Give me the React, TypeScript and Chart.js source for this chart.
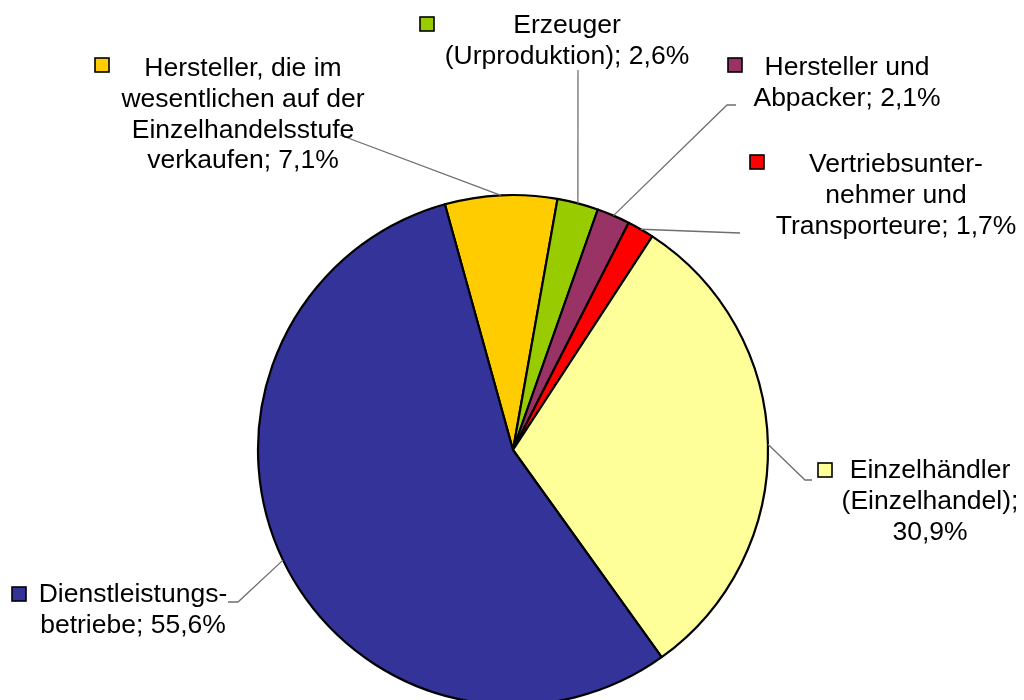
import React, { useEffect, useRef } from "react";
import { Chart, registerables } from "chart.js";

Chart.register(...registerables);

const categories = [
  "Hersteller, die im wesentlichen auf der Einzelhandelsstufe verkaufen",
  "Erzeuger (Urproduktion)",
  "Hersteller und Abpacker",
  "Vertriebsunternehmer und Transporteure",
  "Einzelhändler (Einzelhandel)",
  "Dienstleistungsbetriebe",
];
const shares = [7.1, 2.6, 2.1, 1.7, 30.9, 55.6];
const sliceColors = ["#FFCC00", "#99CC00", "#993366", "#FF0000", "#FFFF99", "#333399"];
const labelLines = [
  ["Hersteller, die im", "wesentlichen auf der", "Einzelhandelsstufe", "verkaufen; 7,1%"],
  ["Erzeuger", "(Urproduktion); 2,6%"],
  ["Hersteller und", "Abpacker; 2,1%"],
  ["Vertriebsunter-", "nehmer und", "Transporteure; 1,7%"],
  ["Einzelhändler", "(Einzelhandel);", "30,9%"],
  ["Dienstleistungs-", "betriebe; 55,6%"],
];

// label layout: text centre x, first baseline y, legend square x/y, leader path (label side first)
const labelLayout = [
  { cx: 243, y: 76, sq: [95, 58], path: [[340, 135]] },
  { cx: 567, y: 33, sq: [420, 17], path: [[578, 70]] },
  { cx: 847, y: 75, sq: [728, 58], path: [[736, 105], [727, 105]] },
  { cx: 896, y: 172, sq: [750, 155], path: [[740, 233]] },
  { cx: 930, y: 478, sq: [818, 463], path: [[812, 480], [805, 480]] },
  { cx: 133, y: 602, sq: [12, 587], path: [[228, 602], [238, 602]] },
];

const FONT = '26.5px "Liberation Sans", Arial, sans-serif';
const LINE_H = 30.8;

const labelPlugin = {
  id: "pieLabels",
  afterDatasetsDraw(chart: any) {
    const ctx = chart.ctx;
    const meta = chart.getDatasetMeta(0);
    ctx.save();
    meta.data.forEach((arc: any, i: number) => {
      const { x, y, startAngle, endAngle, outerRadius } = arc.getProps(
        ["x", "y", "startAngle", "endAngle", "outerRadius"],
        true
      );
      const mid = (startAngle + endAngle) / 2;
      const px = x + Math.cos(mid) * outerRadius;
      const py = y + Math.sin(mid) * outerRadius;
      const lay = labelLayout[i];
      // leader line
      ctx.beginPath();
      ctx.strokeStyle = "#6e6e6e";
      ctx.lineWidth = 1.3;
      ctx.moveTo(lay.path[0][0], lay.path[0][1]);
      for (let k = 1; k < lay.path.length; k++) ctx.lineTo(lay.path[k][0], lay.path[k][1]);
      ctx.lineTo(px, py);
      ctx.stroke();
      // legend square
      ctx.fillStyle = sliceColors[i];
      ctx.fillRect(lay.sq[0], lay.sq[1], 14, 14);
      ctx.strokeStyle = "#000000";
      ctx.lineWidth = 1.6;
      ctx.strokeRect(lay.sq[0], lay.sq[1], 14, 14);
      // text
      ctx.fillStyle = "#000000";
      ctx.font = FONT;
      ctx.textAlign = "center";
      ctx.textBaseline = "alphabetic";
      labelLines[i].forEach((line, j) => {
        ctx.fillText(line, lay.cx, lay.y + j * LINE_H);
      });
    });
    ctx.restore();
  },
};

export default function App() {
  const ref = useRef<HTMLCanvasElement | null>(null);
  useEffect(() => {
    if (!ref.current) return;
    const chart = new Chart(ref.current, {
      type: "pie",
      data: {
        labels: categories,
        datasets: [
          {
            data: shares,
            backgroundColor: sliceColors,
            borderColor: "#000000",
            borderWidth: 2.2,
            clip: false as any,
          },
        ],
      },
      options: {
        responsive: false,
        animation: false,
        devicePixelRatio: 1,
        rotation: -15.5,
        radius: 255,
        layout: { padding: { top: 200, bottom: 0, left: 263, right: 261 } },
        plugins: { legend: { display: false }, tooltip: { enabled: false } },
      } as any,
      plugins: [labelPlugin],
    });
    return () => chart.destroy();
  }, []);
  return (
    <div
      style={{
        position: "fixed",
        left: 0,
        top: 0,
        width: 1024,
        height: 700,
        overflow: "hidden",
        background: "#ffffff",
      }}
    >
      <canvas ref={ref} width={1024} height={700} style={{ display: "block" }} />
    </div>
  );
}
